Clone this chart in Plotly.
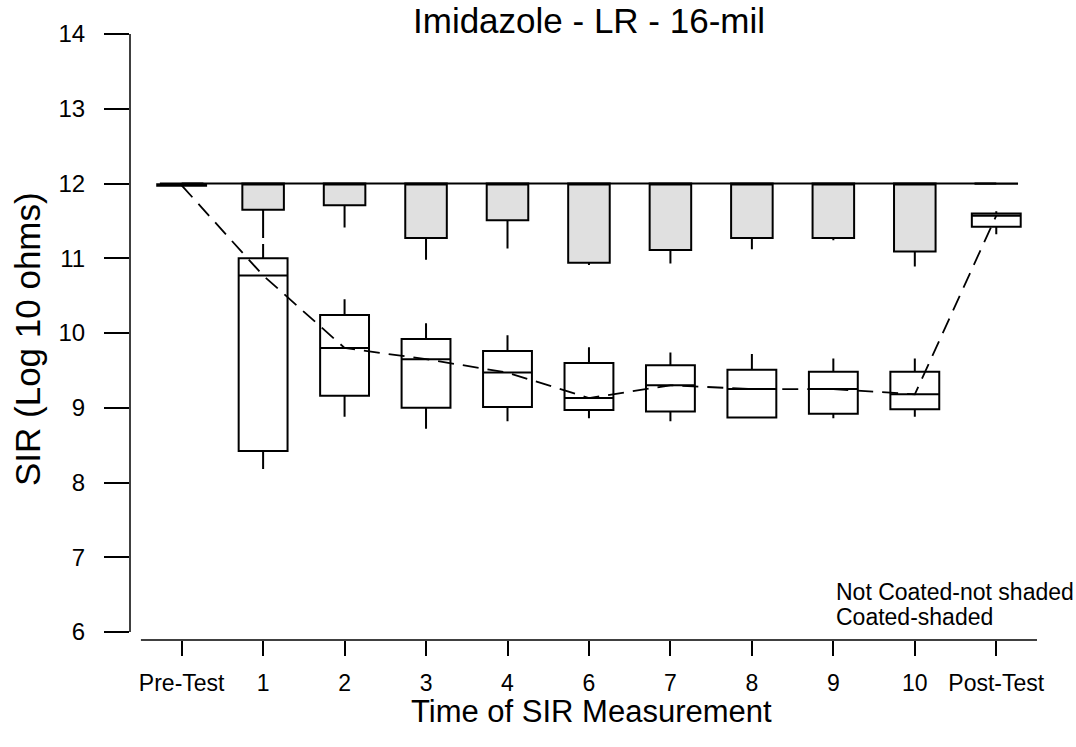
import plotly.graph_objects as go

categories = ["Pre-Test", "1", "2", "3", "4", "6", "7", "8", "9", "10", "Post-Test"]
positions = list(range(len(categories)))

# Not coated (unshaded boxes)
nc_low = [11.96, 8.18, 8.88, 8.72, 8.82, 8.86, 8.82, 8.87, 8.86, 8.88, 11.32]
nc_q1 = [11.97, 8.42, 9.16, 9.00, 9.01, 8.97, 8.95, 8.87, 8.92, 8.98, 11.42]
nc_median = [11.975, 10.77, 9.80, 9.65, 9.47, 9.13, 9.30, 9.25, 9.25, 9.18, 11.57]
nc_q3 = [11.99, 11.00, 10.24, 9.92, 9.76, 9.60, 9.57, 9.51, 9.48, 9.48, 11.60]
nc_high = [12.00, 11.19, 10.45, 10.13, 9.97, 9.81, 9.74, 9.72, 9.66, 9.66, 11.63]

# Coated (shaded boxes)
c_low = [11.97, 11.27, 11.41, 10.98, 11.13, 10.91, 10.93, 11.12, 11.24, 10.89, 11.99]
c_q1 = [11.98, 11.65, 11.71, 11.27, 11.51, 10.94, 11.11, 11.27, 11.27, 11.09, 11.995]
c_median = [12.0] * 11
c_q3 = [12.0] * 11
c_high = [12.0] * 11

y_ticks = [6, 7, 8, 9, 10, 11, 12, 13, 14]

FONT = "Liberation Sans, Arial, sans-serif"
W, H = 1076, 747
L, R, T, B = 130, 1037.5, 34, 640


def px(x):
    return (x - L) / (R - L)


def py(y):
    return (B - y) / (B - T)


fig = go.Figure()

fig.add_trace(go.Box(
    x=positions, q1=c_q1, median=c_median, q3=c_q3,
    lowerfence=c_low, upperfence=c_high,
    width=0.51, whiskerwidth=0, boxpoints=False,
    fillcolor="#e0e0e0", line=dict(color="black", width=2),
    showlegend=False, name="Coated"))

fig.add_trace(go.Box(
    x=positions, q1=nc_q1, median=nc_median, q3=nc_q3,
    lowerfence=nc_low, upperfence=nc_high,
    width=0.6, whiskerwidth=0, boxpoints=False,
    fillcolor="rgba(255,255,255,1)", line=dict(color="black", width=2),
    showlegend=False, name="Not coated"))

fig.add_trace(go.Scatter(
    x=positions, y=c_median, mode="lines",
    line=dict(color="black", width=1.8), showlegend=False))

fig.add_trace(go.Scatter(
    x=positions, y=nc_median, mode="lines",
    line=dict(color="black", width=1.8, dash="16px,9px"), showlegend=False))

fig.update_layout(
    width=W, height=H,
    margin=dict(l=L, r=W - R, t=T, b=H - B, pad=0),
    paper_bgcolor="white", plot_bgcolor="white",
    font=dict(family=FONT, color="black", size=22),
    showlegend=False,
    boxmode="overlay",
    xaxis=dict(
        range=[-0.634, 10.5], tickmode="array", tickvals=positions,
        ticktext=categories, ticks="outside", ticklen=15, tickwidth=1.5,
        tickcolor="black", showline=False, showgrid=False, zeroline=False,
        tickfont=dict(size=23, family=FONT), ticklabelstandoff=7),
    yaxis=dict(
        range=[5.893, 14], tickmode="array", tickvals=y_ticks,
        ticks="outside", ticklen=25, tickwidth=1.5, tickcolor="black",
        showline=False, showgrid=False, zeroline=False,
        tickfont=dict(size=24, family=FONT), ticklabelstandoff=14),
    shapes=[
        dict(type="line", xref="paper", yref="y", x0=0, x1=0, y0=6, y1=14,
             line=dict(color="black", width=1.5)),
        dict(type="line", xref="x", yref="paper", x0=-0.5, x1=10.5, y0=0, y1=0,
             line=dict(color="black", width=1.5)),
    ],
    annotations=[
        dict(text="Imidazole - LR - 16-mil", xref="paper", yref="paper",
             x=px(589), y=py(21), xanchor="center", yanchor="middle",
             showarrow=False, font=dict(size=35, family=FONT)),
        dict(text="Time of SIR Measurement", xref="paper", yref="paper",
             x=px(592), y=py(711), xanchor="center", yanchor="middle",
             showarrow=False, font=dict(size=31, family=FONT)),
        dict(text="SIR (Log 10 ohms)", xref="paper", yref="paper",
             x=px(28), y=py(339), xanchor="center", yanchor="middle",
             textangle=-90, showarrow=False, font=dict(size=35, family=FONT)),
        dict(text="Not Coated-not shaded", xref="paper", yref="paper",
             x=px(834), y=py(592), xanchor="left", yanchor="middle",
             showarrow=False, font=dict(size=23, family=FONT)),
        dict(text="Coated-shaded", xref="paper", yref="paper",
             x=px(834), y=py(617), xanchor="left", yanchor="middle",
             showarrow=False, font=dict(size=23, family=FONT)),
    ],
)

fig.write_html("out.html")
